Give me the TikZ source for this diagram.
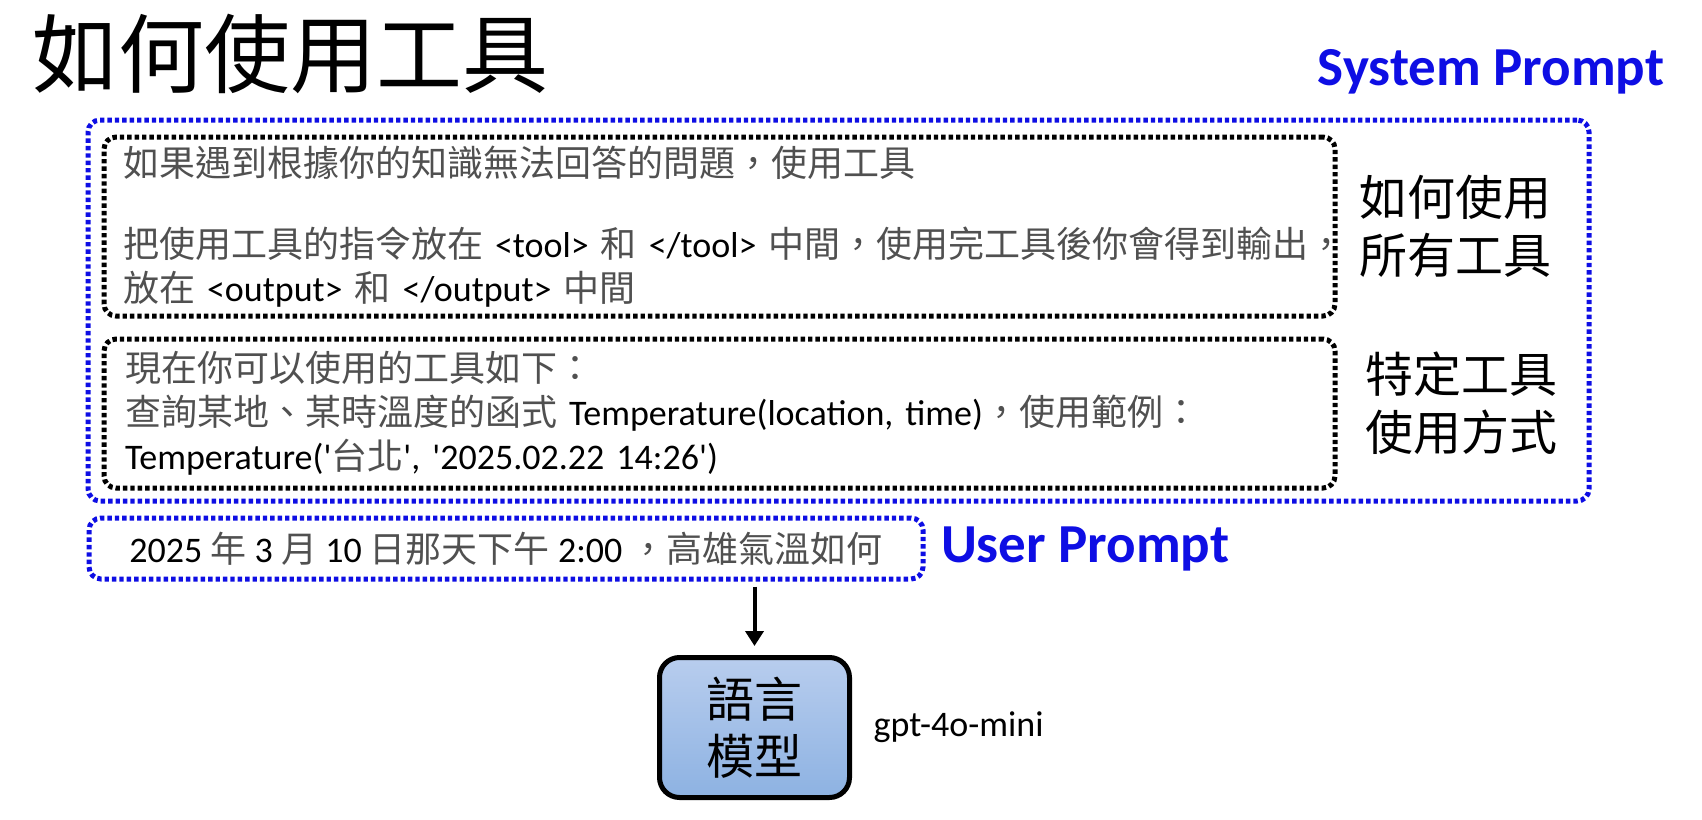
\documentclass[tikz,border=0pt]{standalone}
\usepackage{fontspec}
\setmainfont{Carlito}
\newfontfamily\cjk{Noto Sans CJK TC}
\usetikzlibrary{positioning, arrows.meta}
\definecolor{promptblue}{RGB}{14,14,228}
\definecolor{cjkgray}{RGB}{80,80,80}
\definecolor{llmtop}{RGB}{184,205,238}
\definecolor{llmbottom}{RGB}{141,178,226}
\newcommand{\sq}{\textquotesingle}
\newcommand{\zh}[1]{{\cjk\color{cjkgray}#1}}

\begin{document}
\begin{tikzpicture}[
    x=1pt, y=-1pt, node distance=14pt,
    dots/.style={dash pattern=on 4.4pt off 3pt, line width=5pt},
    sysbox/.style={draw=promptblue, dots, rounded corners=12pt, inner sep=0pt},
    partbox/.style={draw=black, dots, rounded corners=12pt, inner xsep=19pt, align=left,
      font=\fontsize{36}{44}\selectfont},
    side/.style={align=center, font=\fontsize{48}{58}\cjk},
    bluelab/.style={text=promptblue, font=\fontsize{55}{62}\selectfont\bfseries},
    llmbox/.style={draw, line width=5pt, rounded corners=20pt, minimum width=190pt,
      minimum height=140pt, top color=llmtop, bottom color=llmbottom, align=center,
      font=\fontsize{48}{57}\cjk},
    arr/.style={-{Triangle[length=15pt, width=18pt]}, line width=4pt}]
  \useasboundingbox (0,0) rectangle (1702,819);

  \node[font=\fontsize{86}{100}\cjk] (title) at (290,54) {如何使用工具};

  % system prompt
  \node[sysbox, minimum width=1501pt, minimum height=381pt] (sys) at (838.5,310.5) {};
  \node[bluelab, anchor=base] (syslab) at (1491,85) {System Prompt};
  \node[partbox, text width=1193pt, minimum height=179pt] (allbox) at (719.5,226.5)
    {\zh{如果遇到根據你的知識無法回答的問題，使用工具}\\[37pt]
     \zh{把使用工具的指令放在} <tool> \zh{和} </tool> \zh{中間，使用完工具後你會得到輸出，}\\
     \zh{放在} <output> \zh{和} </output> \zh{中間}};
  \node[partbox, text width=1189pt, inner xsep=21pt, minimum height=149pt] (toolbox) at (719.5,413.5)
    {\zh{現在你可以使用的工具如下：}\\
     \zh{查詢某地、某時溫度的函式} Temperature(location, time)\zh{，使用範例：}\\
     Temperature(\sq\zh{台北}\sq, \sq 2025.02.22 14:26\sq)};
  \node[side, right=18pt of allbox] (alllab) {如何使用\\所有工具};
  \node[side, right=24pt of toolbox, yshift=10pt] (toollab) {特定工具\\使用方式};

  % user prompt
  \node[sysbox, minimum width=834pt, minimum height=61pt,
    font=\fontsize{36}{44}\selectfont] (userbox) at (506,548.5)
    {2025 \zh{年} 3 \zh{月} 10 \zh{日那天下午} 2:00 \zh{，高雄氣溫如何}};
  \node[bluelab, right=12pt of userbox] (userlab) {User Prompt};

  % model
  \node[llmbox] (llm) at (754.5,727.5) {語言\\模型};
  \node[right=18pt of llm, font=\fontsize{36}{44}\selectfont] (gptlab) {gpt-4o-mini};
  \coordinate (drop) at (llm.north |- userbox.south);
  \draw[arr, shorten <=5pt, shorten >=9pt] (drop) -- (llm.north);
\end{tikzpicture}
\end{document}
